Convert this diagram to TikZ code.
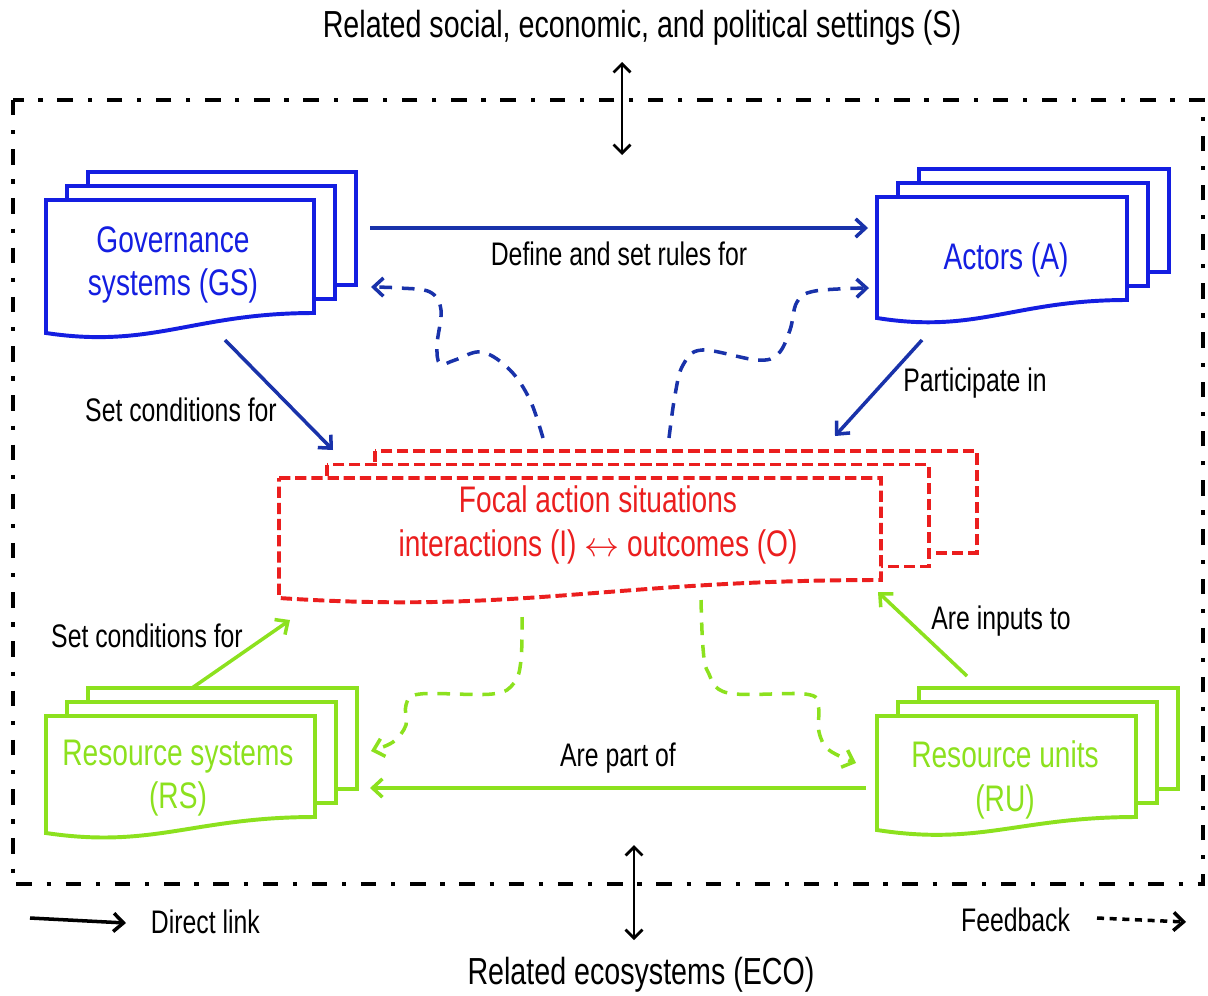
\documentclass[tikz,border=0pt]{standalone}
\usepackage{fontspec}
\setmainfont{Liberation Sans}[FakeStretch=0.76]
\usepackage{xcolor}
\usetikzlibrary{arrows.meta}

\definecolor{gsblue}{RGB}{20,30,225}
\definecolor{linkblue}{RGB}{25,50,170}
\definecolor{fasred}{RGB}{235,30,30}
\definecolor{rsgreen}{RGB}{140,225,30}

% three stacked pages: style, left, top, right, bottom-left, bottom-right, dx, dy
\newcommand{\pagestack}[8]{%
  \draw[#1, fill=white] ({#2+2*#7},{#3+2*#8}) rectangle ({#4+2*#7},{#6+2*#8});
  \draw[#1, fill=white] ({#2+#7},{#3+#8}) rectangle ({#4+#7},{#6+#8});
  \draw[#1, fill=white] (#2,#3) -- (#4,#3) -- (#4,#6)
    .. controls ({#4-0.45*(#4-#2)},#6) and ({#2+0.4*(#4-#2)},{#5+16}) .. (#2,#5) -- cycle;
}

\begin{document}
\begin{tikzpicture}[
    x=0.025cm, y=-0.025cm,
    page/.style = {line width=2.8pt, line join=miter},
    boxtext/.style = {align=center, font=\fontsize{26.3}{31}\selectfont},
    label/.style = {font=\fontsize{23.2}{27}\selectfont},
    outer/.style = {font=\fontsize{26.8}{31}\selectfont},
    tip/.style = {-{Straight Barb[length=7pt,width=13pt]}},
    arrow/.style = {line width=2.5pt, tip},
    feedback/.style = {line width=2.5pt, dash pattern=on 9pt off 7pt, tip},
    twoway/.style = {line width=2pt, {Straight Barb[length=6pt,width=12pt]}-{Straight Barb[length=6pt,width=12pt]}}
]
\useasboundingbox (0,0) rectangle (1208,995);

% Frame of the social-ecological system
\draw[line width=3pt, dash pattern=on 11pt off 10.5pt on 3pt off 10.5pt] (13,100) rectangle (1203,884);

% Page stacks
\pagestack{page, draw=gsblue}{46}{200}{314}{333}{313}{21}{-14}
\pagestack{page, draw=gsblue}{877}{197}{1127}{318}{300}{21}{-14}
\pagestack{page, draw=fasred, dash pattern=on 8pt off 3.5pt}{279}{478}{881}{598}{580}{48}{-13.5}
\pagestack{page, draw=rsgreen}{46}{716}{315}{833}{817}{21}{-14}
\pagestack{page, draw=rsgreen}{877}{716}{1136}{830}{817}{21}{-14}

% Nodes
\node (soc) [outer] at (642,28) {Related social, economic, and political settings (S)};
\node (eco) [outer] at (641,975) {Related ecosystems (ECO)};
\node (gs) [boxtext, text=gsblue] at (173,265) {Governance\\systems (GS)};
\node (act) [boxtext, text=gsblue] at (1006,260) {Actors (A)};
\node (fas) [boxtext, text=fasred] at (598,525) {Focal action situations\\interactions (I) $\leftrightarrow$ outcomes (O)};
\node (rs) [boxtext, text=rsgreen] at (178,778) {Resource systems\\(RS)};
\node (ru) [boxtext, text=rsgreen] at (1005,780) {Resource units\\(RU)};

% Connector ends
\coordinate (soc-a) at (622,62);   \coordinate (soc-b) at (622,155);
\coordinate (eco-a) at (634,845);  \coordinate (eco-b) at (634,940);
\coordinate (gs-r) at (370,228);   \coordinate (act-l) at (868,228);
\coordinate (gs-d) at (225,340);   \coordinate (fas-nw) at (333,450);
\coordinate (act-d) at (922,340);  \coordinate (fas-ne) at (835,436);
\coordinate (rs-u) at (192,688);   \coordinate (fas-sw) at (290,620);
\coordinate (ru-u) at (967,676);   \coordinate (fas-se) at (878,592);
\coordinate (ru-l) at (866,788);   \coordinate (rs-r) at (370,788);
\coordinate (fbl-s) at (543,438);  \coordinate (gs-fb) at (371,287);
\coordinate (fbr-s) at (669,438);  \coordinate (act-fb) at (869,288);
\coordinate (fgl-s) at (522,617);  \coordinate (rs-fb) at (371,751);
\coordinate (fgr-s) at (701,600);  \coordinate (ru-fb) at (856,763);

% Direct links
\draw [twoway] (soc-a) -- (soc-b);
\draw [twoway] (eco-a) -- (eco-b);
\draw [arrow, linkblue] (gs-r) -- node[label, black, below=5pt]{Define and set rules for} (act-l);
\draw [arrow, linkblue] (gs-d) -- (fas-nw);
\draw [arrow, linkblue] (act-d) -- (fas-ne);
\draw [arrow, rsgreen] (rs-u) -- (fas-sw);
\draw [arrow, rsgreen] (ru-u) -- (fas-se);
\draw [arrow, rsgreen] (ru-l) -- node[label, black, above=6pt]{Are part of} (rs-r);
\node [label] at (181,410) {Set conditions for};
\node [label] at (975,383) {Participate in};
\node [label] at (147,636) {Set conditions for};
\node [label] at (1001,621) {Are inputs to};

% Feedbacks
\draw [feedback, linkblue] plot[smooth, tension=0.6] coordinates {(fbl-s) (530,400) (510,370) (482,352) (455,360) (440,364) (437,345) (441,310) (430,292) (400,288) (gs-fb)};
\draw [feedback, linkblue] plot[smooth, tension=0.6] coordinates {(fbr-s) (675,395) (683,365) (702,350) (757,360) (778,354) (790,330) (797,302) (815,291) (act-fb)};
\draw [feedback, rsgreen] plot[smooth, tension=0.6] coordinates {(fgl-s) (521,660) (514,683) (492,694) (420,694) (406,705) (406,725) (393,742) (rs-fb)};
\draw [feedback, rsgreen] plot[smooth, tension=0.6] coordinates {(fgr-s) (703,648) (708,672) (728,693) (805,694) (818,705) (819,732) (829,750) (ru-fb)};

% Legend
\coordinate (dl-a) at (30,918);   \coordinate (dl-b) at (126,923);
\coordinate (fb-a) at (1097,918); \coordinate (fb-b) at (1186,922);
\draw [arrow] (dl-a) -- (dl-b);
\node (dl) [label, anchor=west] at (146,922) {Direct link};
\draw [line width=2.5pt, dash pattern=on 5pt off 4pt, tip] (fb-a) -- (fb-b);
\node (fb) [label, anchor=east] at (1075,920) {Feedback};

\end{tikzpicture}
\end{document}
